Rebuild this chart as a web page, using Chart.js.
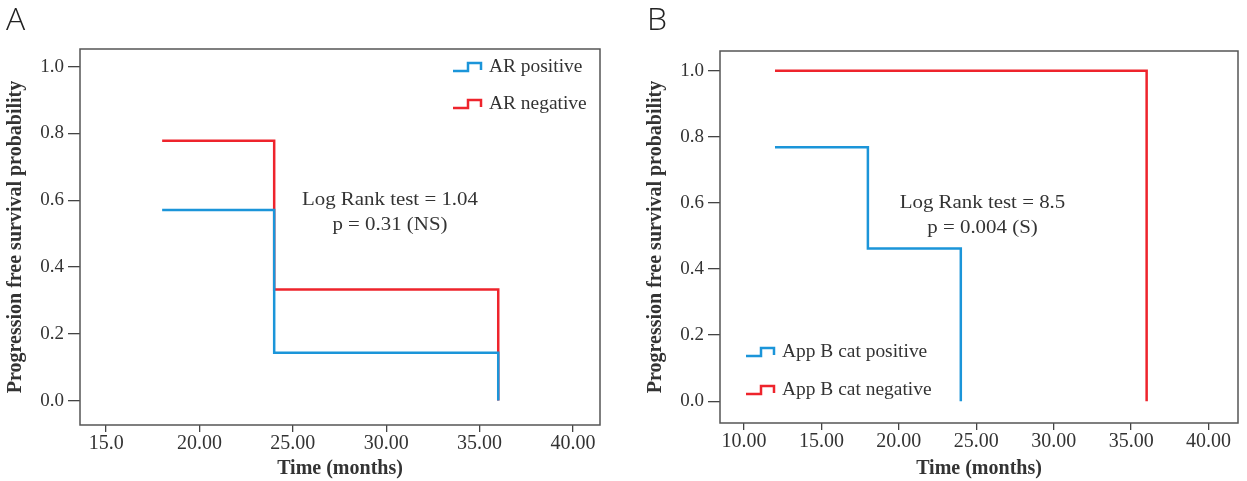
<!DOCTYPE html>
<html>
<head>
<meta charset="utf-8">
<script src="https://cdn.jsdelivr.net/npm/chart.js@4.4.1/dist/chart.umd.min.js"></script>
<style>
  html, body { margin: 0; padding: 0; background: #fff; }
  #wrap { position: relative; width: 1247px; height: 481px; overflow: hidden; }
  .panel { position: absolute; top: 0; height: 481px; }
  #panelA { left: 0; width: 620px; }
  #panelB { left: 630px; width: 617px; }
  .tag { position: absolute; top: -4px; font-family: "Open Sans", sans-serif; font-weight: 300; font-size: 32px; color: #222; }
</style>
</head>
<body>
<div id="wrap">
  <div class="panel" id="panelA"><canvas id="chartA"></canvas></div>
  <div class="panel" id="panelB"><canvas id="chartB"></canvas></div>
  <div class="tag" style="left:6px">A</div>
  <div class="tag" style="left:647px">B</div>
</div>
<script>
// Panel A data (Kaplan-Meier steps: time, survival)
const timesA = [18, 24, 36];
const arPositive = [0.571, 0.143, 0];
const arNegative = [0.778, 0.333, 0];
const xTicksA = [15, 20, 25, 30, 35, 40];
const xLabelsA = ['15.0', '20.00', '25.00', '30.00', '35.00', '40.00'];

// Panel B data
const timesBpos = [12, 18, 24];
const appBPositive = [0.769, 0.462, 0];
const timesBneg = [12, 36];
const appBNegative = [1.0, 0];
const xTicksB = [10, 15, 20, 25, 30, 35, 40];
const xLabelsB = ['10.00', '15.00', '20.00', '25.00', '30.00', '35.00', '40.00'];

const yTicks = [0, 0.2, 0.4, 0.6, 0.8, 1.0];

const BLUE = '#1b95d9';
const RED = '#ee242c';
const INK = '#333333';
const SERIF = '"Liberation Serif", "DejaVu Serif", serif';

function toPoints(times, values) {
    return times.map((t, i) => ({ x: t, y: values[i] }));
}

// text a little wider, the original uses a Garamond face
function wideText(ctx, text, x, y, sx) {
    ctx.save();
    ctx.translate(x, y);
    ctx.scale(sx, 1);
    ctx.fillText(text, 0, 0);
    ctx.restore();
}

// Draw frame, legend and log rank text
const extrasPlugin = {
    id: 'extras',
    afterDraw(chart, args, opts) {
        const ctx = chart.ctx;
        const area = chart.chartArea;
        const xs = chart.scales.x;
        const ys = chart.scales.y;
        ctx.save();
        // frame
        ctx.strokeStyle = '#555';
        ctx.lineWidth = 1.5;
        ctx.strokeRect(area.left, area.top, area.right - area.left, area.bottom - area.top);

        // legend
        ctx.font = '18px ' + SERIF;
        ctx.fillStyle = INK;
        ctx.textBaseline = 'middle';
        ctx.textAlign = 'left';
        opts.legend.items.forEach(item => {
            const x0 = opts.legend.x;
            const y0 = item.y;
            ctx.strokeStyle = item.color;
            ctx.lineWidth = 2.5;
            ctx.beginPath();
            ctx.moveTo(x0, y0 + 4);
            ctx.lineTo(x0 + 15, y0 + 4);
            ctx.lineTo(x0 + 15, y0 - 4);
            ctx.lineTo(x0 + 28, y0 - 4);
            ctx.lineTo(x0 + 28, y0 + 3);
            ctx.stroke();
            wideText(ctx, item.text, x0 + 36, y0, 1.08);
        });

        // log rank text
        ctx.textAlign = 'center';
        ctx.font = '19px ' + SERIF;
        const cx = xs.getPixelForValue(opts.note.x);
        opts.note.lines.forEach((line, i) => {
            wideText(ctx, line, cx, ys.getPixelForValue(opts.note.y) + i * 25, 1.1);
        });
        ctx.restore();
    }
};

function makeChart(id, cfg) {
    return new Chart(document.getElementById(id), {
        type: 'line',
        data: { datasets: cfg.datasets },
        options: {
            responsive: true,
            maintainAspectRatio: false,
            animation: false,
            layout: { padding: cfg.padding },
            plugins: {
                legend: { display: false },
                tooltip: { enabled: false },
                extras: { legend: cfg.legend, note: cfg.note }
            },
            elements: { point: { radius: 0 } },
            scales: {
                x: {
                    type: 'linear',
                    min: cfg.xMin,
                    max: cfg.xMax,
                    afterBuildTicks: s => { s.ticks = cfg.xTicks.map(v => ({ value: v })); },
                    afterFit: s => { s.height = cfg.xHeight; },
                    border: { display: false },
                    grid: { drawOnChartArea: false, drawTicks: true, tickLength: 7, tickColor: '#444', lineWidth: 1.3 },
                    ticks: {
                        color: INK,
                        font: { family: SERIF, size: 20 },
                        padding: 0,
                        maxRotation: 0,
                        callback: (v) => cfg.xLabels[cfg.xTicks.indexOf(v)]
                    },
                    title: {
                        display: true,
                        text: 'Time (months)',
                        color: INK,
                        font: { family: SERIF, size: 20, weight: 'bold' },
                        padding: { top: 0, bottom: 0 }
                    }
                },
                y: {
                    min: cfg.yMin,
                    max: cfg.yMax,
                    afterBuildTicks: s => { s.ticks = yTicks.map(v => ({ value: v })); },
                    afterFit: s => { s.width = 80; },
                    border: { display: false },
                    grid: { drawOnChartArea: false, drawTicks: true, tickLength: 12, tickColor: '#444', lineWidth: 1.3 },
                    ticks: {
                        color: INK,
                        font: { family: SERIF, size: 19 },
                        padding: 4,
                        callback: (v) => v.toFixed(1)
                    },
                    title: {
                        display: true,
                        text: 'Progression free survival probability',
                        color: INK,
                        font: { family: SERIF, size: 20, weight: 'bold' },
                        padding: { top: 4, bottom: 0 }
                    }
                }
            }
        },
        plugins: [extrasPlugin]
    });
}

makeChart('chartA', {
    datasets: [
        { label: 'AR positive', data: toPoints(timesA, arPositive), borderColor: BLUE, borderWidth: 2.5, stepped: 'before', fill: false },
        { label: 'AR negative', data: toPoints(timesA, arNegative), borderColor: RED, borderWidth: 2.5, stepped: 'before', fill: false }
    ],
    padding: { top: 49, right: 20, left: 0, bottom: 0 },
    xMin: 13.6, xMax: 41.45, xTicks: xTicksA, xLabels: xLabelsA, xHeight: 56,
    yMin: -0.073, yMax: 1.053,
    legend: { x: 453, items: [
        { text: 'AR positive', color: BLUE, y: 67 },
        { text: 'AR negative', color: RED, y: 104 }
    ] },
    note: { x: 30.2, y: 0.6, lines: ['Log Rank test = 1.04', 'p = 0.31 (NS)'] }
});

makeChart('chartB', {
    datasets: [
        { label: 'App B cat positive', data: toPoints(timesBpos, appBPositive), borderColor: BLUE, borderWidth: 2.5, stepped: 'before', fill: false },
        { label: 'App B cat negative', data: toPoints(timesBneg, appBNegative), borderColor: RED, borderWidth: 2.5, stepped: 'before', fill: false }
    ],
    padding: { top: 51, right: 9, left: 10, bottom: 0 },
    xMin: 8.45, xMax: 41.9, xTicks: xTicksB, xLabels: xLabelsB, xHeight: 58,
    yMin: -0.066, yMax: 1.06,
    legend: { x: 116, items: [
        { text: 'App B cat positive', color: BLUE, y: 352 },
        { text: 'App B cat negative', color: RED, y: 390 }
    ] },
    note: { x: 25.4, y: 0.6, lines: ['Log Rank test = 8.5', 'p = 0.004 (S)'] }
});
</script>
</body>
</html>
